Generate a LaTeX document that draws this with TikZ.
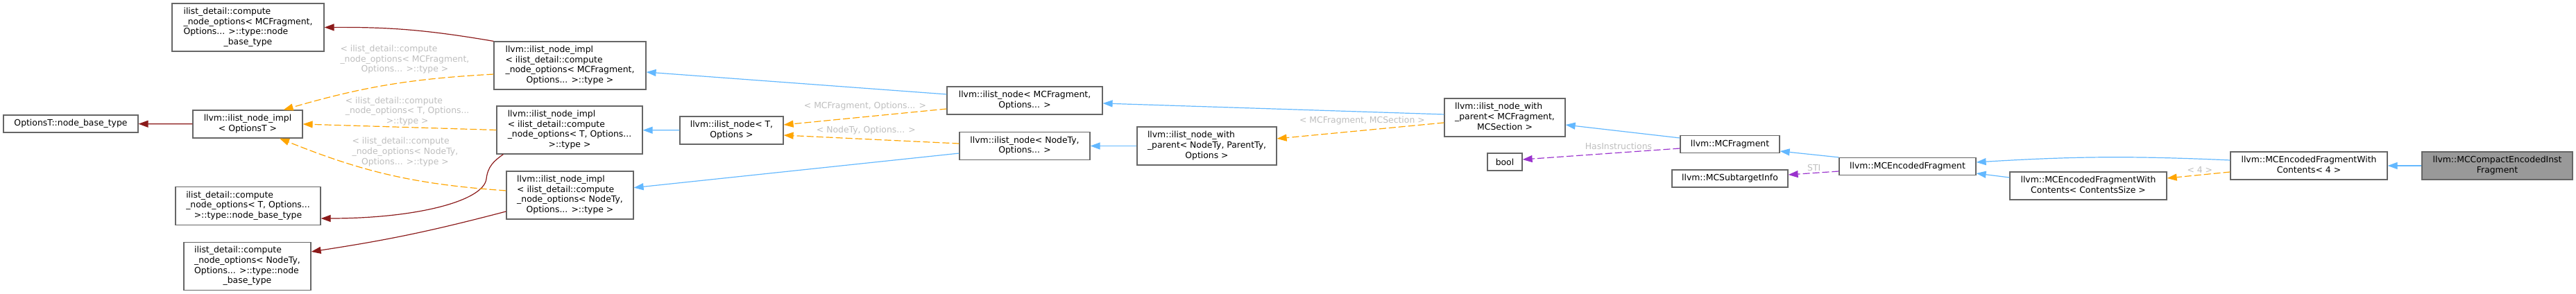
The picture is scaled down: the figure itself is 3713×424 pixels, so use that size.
\documentclass[tikz,border=0pt]{standalone}
\usepackage{fontspec}
\setmainfont{DejaVu Sans}
\usetikzlibrary{arrows.meta}

\definecolor{inheritblue}{HTML}{63B8FF}
\definecolor{memberred}{HTML}{8B1A1A}
\definecolor{templorange}{HTML}{FFA500}
\definecolor{usagepurple}{HTML}{9A32CD}
\definecolor{boxline}{HTML}{666666}
\definecolor{clsgray}{HTML}{999999}
\definecolor{lblgray}{HTML}{BEBEBE}

% lines left aligned, last line centred
\newcommand{\boxlines}[2]{\begin{tabular}{@{}l@{}}#1\\\multicolumn{1}{@{}c@{}}{#2}\end{tabular}}

\begin{document}
\begin{tikzpicture}[x=0.75pt, y=-0.75pt, every node/.style={font=\fontsize{9.3}{11}\selectfont}]
    % Define styles
    \tikzstyle{cls} = [draw=boxline, line width=0.9pt, fill=white, inner sep=0pt, align=center]
    \tikzstyle{rows1} = [minimum height=18.75pt]
    \tikzstyle{rows2} = [minimum height=30pt]
    \tikzstyle{rows3} = [minimum height=41.25pt]
    \tikzstyle{rows4} = [minimum height=51.75pt]
    \tikzstyle{elabel} = [text=lblgray, inner sep=0pt]
    \tikzstyle{pub} = [draw=inheritblue, line width=0.9pt, -{Triangle[length=10.5pt, width=7.5pt]}]
    \tikzstyle{memb} = [draw=memberred, line width=0.9pt, -{Triangle[length=10.5pt, width=7.5pt]}]
    \tikzstyle{tmpl} = [draw=templorange, line width=0.9pt, dash pattern=on 7.5pt off 3pt, -{Triangle[length=10.5pt, width=7.5pt]}]
    \tikzstyle{uses} = [draw=usagepurple, line width=0.9pt, dash pattern=on 7.5pt off 3pt, -{Triangle[length=10.5pt, width=7.5pt]}]

    \useasboundingbox (0,0) rectangle (3713,424);

    % Nodes
    \node[cls, rows4, minimum width=164.25pt] (frag_base) at (357.5, 39.5) {\boxlines{ilist\_detail::compute\\\_node\_options< MCFragment,\\Options... >::type::node}{\_base\_type}};
    \node[cls, rows1, minimum width=145.5pt] (optionsT_base) at (102, 178.5) {OptionsT::node\_base\_type};
    \node[cls, rows2, minimum width=118.5pt] (impl_optionsT) at (357, 179) {\boxlines{llvm::ilist\_node\_impl}{< OptionsT >}};
    \node[cls, rows3, minimum width=156.75pt] (t_base) at (357.5, 297) {\boxlines{ilist\_detail::compute\\\_node\_options< T, Options...}{>::type::node\_base\_type}};
    \node[cls, rows4, minimum width=137.25pt] (nodety_base) at (356.5, 384) {\boxlines{ilist\_detail::compute\\\_node\_options< NodeTy,\\Options... >::type::node}{\_base\_type}};

    \node[cls, rows4, minimum width=164.25pt] (impl_frag) at (821.5, 94.5) {\boxlines{llvm::ilist\_node\_impl\\< ilist\_detail::compute\\\_node\_options< MCFragment,}{Options... >::type >}};
    \node[cls, rows4, minimum width=157.5pt] (impl_t) at (821, 187.5) {\boxlines{llvm::ilist\_node\_impl\\< ilist\_detail::compute\\\_node\_options< T, Options...}{>::type >}};
    \node[cls, rows4, minimum width=137.25pt] (impl_nodety) at (821.5, 281.5) {\boxlines{llvm::ilist\_node\_impl\\< ilist\_detail::compute\\\_node\_options< NodeTy,}{Options... >::type >}};

    \node[cls, rows2, minimum width=111.75pt] (node_t) at (1054.5, 188) {\boxlines{llvm::ilist\_node< T,}{Options >}};
    \node[cls, rows2, minimum width=168pt] (node_frag) at (1477, 145) {\boxlines{llvm::ilist\_node< MCFragment,}{Options... >}};
    \node[cls, rows2, minimum width=141pt] (node_nodety) at (1477, 210.5) {\boxlines{llvm::ilist\_node< NodeTy,}{Options... >}};
    \node[cls, rows3, minimum width=150.75pt] (parent_nodety) at (1739.5, 210.5) {\boxlines{llvm::ilist\_node\_with\\\_parent< NodeTy, ParentTy,}{Options >}};
    \node[cls, rows3, minimum width=130.5pt] (parent_frag) at (2169, 169.5) {\boxlines{llvm::ilist\_node\_with\\\_parent< MCFragment,}{MCSection >}};

    \node[cls, rows1, minimum width=37.5pt] (bool) at (2169, 233.5) {bool};
    \node[cls, rows1, minimum width=107.25pt] (mcfragment) at (2493.5, 208) {llvm::MCFragment};
    \node[cls, rows1, minimum width=125.25pt] (subtarget) at (2493.5, 257.5) {llvm::MCSubtargetInfo};
    \node[cls, rows1, minimum width=147.75pt] (encoded) at (2749.5, 240) {llvm::MCEncodedFragment};
    \node[cls, rows2, minimum width=169.5pt] (contents_size) at (3010, 268) {\boxlines{llvm::MCEncodedFragmentWith}{Contents< ContentsSize >}};
    \node[cls, rows2, minimum width=169.5pt] (contents_four) at (3328, 239) {\boxlines{llvm::MCEncodedFragmentWith}{Contents< 4 >}};
    \node[cls, rows2, fill=clsgray, minimum width=162.75pt] (compact) at (3599.5, 239) {\boxlines{llvm::MCCompactEncodedInst}{Fragment}};

    % Member arrows
    \draw[memb] (impl_frag.north west) to[bend right=5] (frag_base.east);
    \draw[memb] (impl_optionsT) -- (optionsT_base);
    \draw[memb] ([xshift=7.5pt]impl_t.south west) .. controls (712,232) and (703,240) .. (701,258) .. controls (697,290) and (600,315) .. ([yshift=-13.5pt]t_base.east);
    \draw[memb] ([yshift=-17.6pt]impl_nodety.west) to[bend left=3] ([yshift=15.75pt]nodety_base.east);

    % Template arrows
    \draw[tmpl] ([yshift=-9.4pt]impl_frag.west) to[bend right=6.5] node[elabel, pos=0.41, above=7.5pt] {\boxlines{< ilist\_detail::compute\\\_node\_options< MCFragment,}{Options... >::type >}} ([xshift=-21pt]impl_optionsT.north east);
    \draw[tmpl] (impl_t.west) -- node[elabel, pos=0.46, above=0pt] {\boxlines{< ilist\_detail::compute\\\_node\_options< T, Options...}{>::type >}} (impl_optionsT.east);
    \draw[tmpl] ([yshift=4.9pt]impl_nodety.west) to[bend left=9] node[elabel, pos=0.43, above=11pt] {\boxlines{< ilist\_detail::compute\\\_node\_options< NodeTy,}{Options... >::type >}} ([xshift=34.5pt]impl_optionsT.south);
    \draw[tmpl] ([yshift=-9pt]node_frag.west) -- node[elabel, pos=0.5, above=6.5pt] {< MCFragment, Options... >} ([yshift=6pt]node_t.east);
    \draw[tmpl] ([yshift=2.6pt]node_nodety.west) -- node[elabel, pos=0.53, above=4.2pt] {< NodeTy, Options... >} ([yshift=-5.25pt]node_t.east);
    \draw[tmpl] ([yshift=-5.6pt]parent_frag.west) -- node[elabel, pos=0.49, above=5.7pt] {< MCFragment, MCSection >} ([yshift=7.9pt]parent_nodety.east);
    \draw[tmpl] ([yshift=-6.75pt]contents_four.west) -- node[elabel, pos=0.48, above=1.5pt] {< 4 >} ([yshift=8.25pt]contents_size.east);

    % Inheritance arrows
    \draw[pub] (node_t) -- (impl_t);
    \draw[pub] ([yshift=6.75pt]node_frag.west) -- ([yshift=-7.1pt]impl_frag.east);
    \draw[pub] ([yshift=-7.9pt]node_nodety.west) -- ([yshift=8.1pt]impl_nodety.east);
    \draw[pub] (parent_nodety) -- (node_nodety);
    \draw[pub] ([yshift=3.4pt]parent_frag.west) -- ([yshift=-3pt]node_frag.east);
    \draw[pub] ([yshift=6.75pt]mcfragment.west) -- ([yshift=-7.9pt]parent_frag.east);
    \draw[pub] (encoded.north west) -- ([yshift=-7.5pt]mcfragment.east);
    \draw[pub] ([yshift=6pt]contents_four.west) to[bend right=3] ([yshift=4.5pt]encoded.east);
    \draw[pub] ([yshift=9pt]contents_size.west) -- ([yshift=-7.5pt]encoded.east);
    \draw[pub] (compact) -- (contents_four);

    % Usage arrows
    \draw[uses] ([yshift=-4.5pt]mcfragment.west) -- node[elabel, pos=0.39, above=2.7pt] {HasInstructions} ([yshift=2.6pt]bool.east);
    \draw[uses] ([yshift=-5.25pt]encoded.west) -- node[elabel, pos=0.49, above=1.5pt] {STI} ([yshift=4.1pt]subtarget.east);
\end{tikzpicture}
\end{document}
